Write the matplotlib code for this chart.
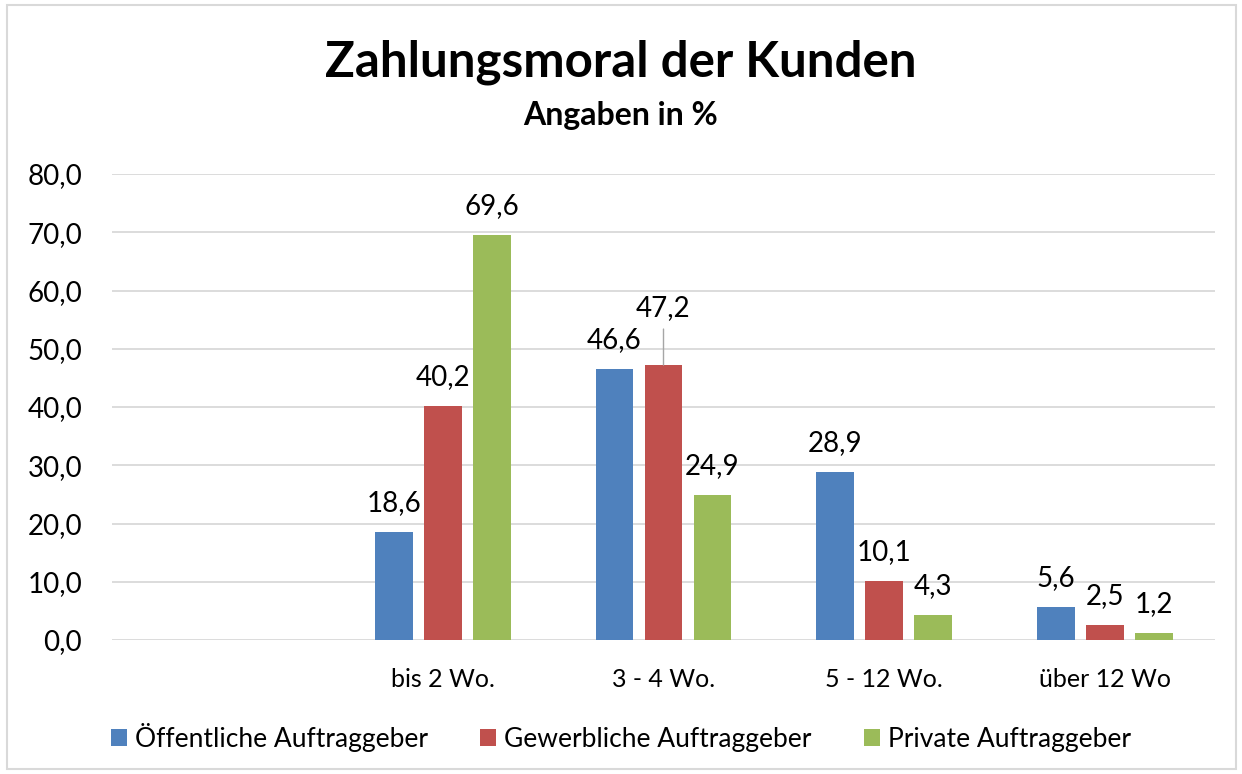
import numpy as np
import matplotlib
matplotlib.use("Agg")
import matplotlib.pyplot as plt
from matplotlib.patches import Rectangle
from matplotlib.ticker import FuncFormatter

plt.rcParams['font.family'] = ['Lato', 'DejaVu Sans']

# Daten
categories = ["", "bis 2 Wo.", "3 - 4 Wo.", "5 - 12 Wo.", "über 12 Wo"]
series_names = ["Öffentliche Auftraggeber", "Gewerbliche Auftraggeber", "Private Auftraggeber"]
oeffentlich = [np.nan, 18.6, 46.6, 28.9, 5.6]
gewerblich = [np.nan, 40.2, 47.2, 10.1, 2.5]
privat = [np.nan, 69.6, 24.9, 4.3, 1.2]
y_ticks = [0, 10, 20, 30, 40, 50, 60, 70, 80]

colors = ["#4F81BD", "#C0504D", "#9BBB59"]
W, H = 1242, 774

fig = plt.figure(figsize=(W / 100, H / 100), dpi=100)
ax = fig.add_axes([112 / W, 1 - 640 / H, (1215 - 112) / W, (640 - 174) / H])

x = np.arange(len(categories))
bw = 0.172
step = 0.222
all_series = [oeffentlich, gewerblich, privat]

for i, (vals, name, col) in enumerate(zip(all_series, series_names, colors)):
    xs = x + (i - 1) * step
    ax.bar(xs, vals, width=bw, color=col, label=name, zorder=3)
    for xi, v in zip(xs, vals):
        if np.isnan(v):
            continue
        txt = f"{v:.1f}".replace(".", ",")
        if name == "Gewerbliche Auftraggeber" and v == 47.2:
            # Beschriftung mit Führungslinie
            ax.annotate("", xy=(xi, v), xytext=(0, 36 * 0.72), textcoords="offset points",
                        arrowprops=dict(arrowstyle="-", color="#a6a6a6", lw=1.0,
                                        shrinkA=0, shrinkB=0), zorder=4)
            ax.annotate(txt, xy=(xi, v), xytext=(0, 57 * 0.72), textcoords="offset points",
                        ha="center", va="center", fontsize=20, color="black")
        else:
            ax.annotate(txt, xy=(xi, v), xytext=(0, 29 * 0.72), textcoords="offset points",
                        ha="center", va="center", fontsize=20, color="black")

ax.set_xlim(-0.5, len(categories) - 0.5)
ax.set_ylim(0, 80)
ax.set_yticks(y_ticks)
ax.yaxis.set_major_formatter(FuncFormatter(lambda v, p: f"{v:.1f}".replace(".", ",")))
ax.set_xticks(x)
ax.set_xticklabels(categories)
ax.tick_params(axis="y", length=0, pad=30 * 0.72, labelsize=20)
ax.tick_params(axis="x", length=0, pad=28 * 0.72, labelsize=18)
ax.grid(axis="y", color="#d9d9d9", lw=1.3, zorder=0)
ax.set_axisbelow(True)
for s in ax.spines.values():
    s.set_visible(False)

fig.text(0.5, 1 - 62 / H, "Zahlungsmoral der Kunden", ha="center", va="center",
         fontsize=35.5, fontweight="bold")
fig.text(0.5, 1 - 115 / H, "Angaben in %", ha="center", va="center",
         fontsize=23, fontweight="bold")

fig.legend(loc="center", bbox_to_anchor=(0.5, 1 - 737 / H), ncol=3, frameon=False,
           fontsize=19, handlelength=0.6, handleheight=0.6, handletextpad=0.3,
           columnspacing=2.0)

fig.patches.append(Rectangle((7 / W, 1 - 769 / H), (1236 - 7) / W, (769 - 5) / H,
                             transform=fig.transFigure, fill=False,
                             edgecolor="#d9d9d9", lw=1.5))

fig.savefig("out.png", dpi=100)
